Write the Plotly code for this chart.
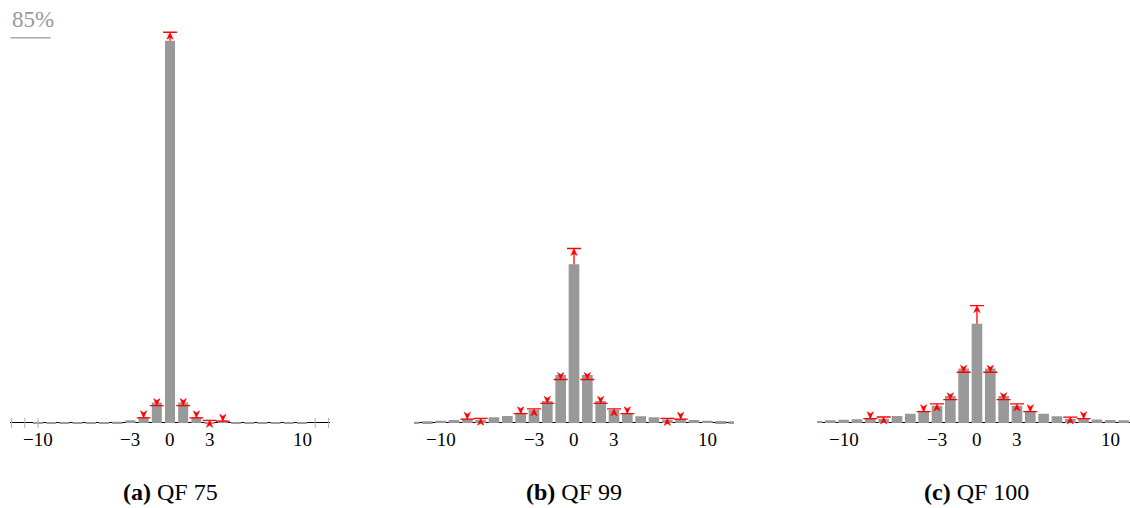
import plotly.graph_objects as go

# DCT coefficient values shown on the horizontal axis
coefficients = list(range(-12, 13))

# Histogram of the cover image (percent of coefficients), one list per quality factor
hist_qf75 = [0.0, 0.0, 0.01, 0.02, 0.03, 0.05, 0.1, 0.15, 0.3, 0.6, 1.35, 4.5, 84.3,
             4.5, 1.3, 0.3, 0.55, 0.15, 0.1, 0.05, 0.03, 0.02, 0.01, 0.0, 0.0]
hist_qf99 = [0.3, 0.37, 0.5, 0.66, 0.95, 0.7, 1.25, 1.55, 2.25, 2.85, 4.85, 10.6, 35.0,
             10.6, 4.85, 2.85, 2.2, 1.5, 1.25, 0.75, 0.95, 0.66, 0.5, 0.42, 0.37]
hist_qf100 = [0.45, 0.6, 0.7, 0.8, 1.1, 0.95, 1.54, 2.05, 2.7, 3.8, 5.95, 12.0, 21.9,
              12.0, 5.95, 3.8, 2.7, 2.05, 1.5, 0.95, 1.1, 0.75, 0.66, 0.6, 0.5]

# Histogram after embedding (None = bin not marked)
embed_qf75 = [None] * 10 + [1.15, 3.85, 86.2, 3.85, 1.15, 0.6, 0.4] + [None] * 8
embed_qf99 = [None] * 4 + [0.85, 1.03, None, None, 2.05, 3.1, 4.35, 9.6, 38.5,
                           9.6, 4.35, 3.1, 2.05, None, None, 1.0, 0.85] + [None] * 4
embed_qf100 = [None] * 4 + [0.95, 1.32, None, None, 2.5, 4.2, 5.15, 11.2, 25.9,
                            11.2, 5.15, 4.2, 2.5, None, None, 1.3, 0.95] + [None] * 4

tick_values = [-10, -3, 0, 3, 10]
tick_text = ["\u221210", "\u22123", "0", "3", "10"]
minor_marks_qf75 = [-12, -11, -10, 11, 12]

panel_tags = ["(a)", "(b)", "(c)"]
panel_names = ["QF 75", "QF 99", "QF 100"]
y_top_label = "85%"
y_top_value = 85

# ---- layout geometry ----
W, H = 1130, 508
FONT = "'Liberation Serif', 'DejaVu Serif', 'Times New Roman', serif"
Y_RANGE = [-4, 92]
Y_DOMAIN = [0.13163, 0.98825]
panels = [
    dict(hist=hist_qf75, embed=embed_qf75, xr=[-12.15, 12.15], dom=[0.0085, 0.2924], bw=0.76),
    dict(hist=hist_qf99, embed=embed_qf99, xr=[-12, 12], dom=[0.36637, 0.64956], bw=0.8),
    dict(hist=hist_qf100, embed=embed_qf100, xr=[-12, 11.48], dom=[0.72301, 1.0], bw=0.8),
]

BAR_COLOR = "#999999"
RED = "#ff0000"
HEAD_LEN = 7.0     # px
HEAD_HALF = 3.2    # px
HEAD_NOTCH = 2.0   # px
LEVEL_HALF = 0.525  # half width of the target level mark, in bins

ky = (Y_DOMAIN[1] - Y_DOMAIN[0]) * H / (Y_RANGE[1] - Y_RANGE[0])


def arrow_paths(xs, before, after, kx):
    lx, ly, hx, hy = [], [], [], []
    L = HEAD_LEN / ky
    N = HEAD_NOTCH / ky
    B = HEAD_HALF / kx
    for x, v, w in zip(xs, before, after):
        if w is None:
            continue
        d = 1 if w > v else -1
        lx += [x - LEVEL_HALF, x + LEVEL_HALF, None]
        ly += [w, w, None]
        lx += [x, x, None]
        ly += [v, w - d * 0.5 * L, None]
        hx += [x, x - B, x, x + B, x, None]
        hy += [w, w - d * L, w - d * (L - N), w - d * L, w, None]
    return lx, ly, hx, hy


fig = go.Figure()
annotations = []
shapes = []

for i, p in enumerate(panels):
    sfx = "" if i == 0 else str(i + 1)
    xa, ya = "x" + sfx, "y" + sfx
    kx = (p["dom"][1] - p["dom"][0]) * W / (p["xr"][1] - p["xr"][0])

    fig.add_trace(go.Bar(x=coefficients, y=p["hist"], width=p["bw"],
                         marker=dict(color=BAR_COLOR, line=dict(width=0)),
                         xaxis=xa, yaxis=ya, hoverinfo="skip"))

    lx, ly, hx, hy = arrow_paths(coefficients, p["hist"], p["embed"], kx)
    fig.add_trace(go.Scatter(x=lx, y=ly, mode="lines", line=dict(color=RED, width=1.3),
                             xaxis=xa, yaxis=ya, hoverinfo="skip"))
    fig.add_trace(go.Scatter(x=hx, y=hy, mode="lines", fill="toself", fillcolor=RED,
                             line=dict(color=RED, width=0.5),
                             xaxis=xa, yaxis=ya, hoverinfo="skip"))

    for tv, tt in zip(tick_values, tick_text):
        annotations.append(dict(x=tv, y=0, xref=xa, yref=ya, text=tt, showarrow=False,
                                yanchor="top", yshift=-4,
                                font=dict(family=FONT, size=19, color="black")))

    annotations.append(dict(x=0, y=0.0315, xref=xa, yref="paper",
                            text="<b>%s</b> %s" % (panel_tags[i], panel_names[i]),
                            showarrow=False, yanchor="middle",
                            font=dict(family=FONT, size=24, color="black")))

    fig.layout["xaxis" + sfx] = dict(domain=p["dom"], range=p["xr"], visible=False,
                                     anchor=ya, fixedrange=True)
    fig.layout["yaxis" + sfx] = dict(domain=Y_DOMAIN, range=Y_RANGE, anchor=xa,
                                     showticklabels=False, showgrid=False, ticks="",
                                     zeroline=True, zerolinecolor="black",
                                     zerolinewidth=1, fixedrange=True)

# small axis marks of the first panel
mx, my = [], []
for m in minor_marks_qf75:
    mx += [m, m, None]
    my += [-5 / ky, 5 / ky, None]
fig.add_trace(go.Scatter(x=mx, y=my, mode="lines", line=dict(color="#b0b0b0", width=1),
                         xaxis="x", yaxis="y", hoverinfo="skip"))

# top-of-scale mark on the first panel
shapes.append(dict(type="line", xref="x domain", yref="y", x0=0.003, x1=0.128,
                   y0=y_top_value, y1=y_top_value, line=dict(color="#aaaaaa", width=1.5)))
annotations.append(dict(x=0.0, y=y_top_value, xref="x domain", yref="y", text=y_top_label,
                        showarrow=False, xanchor="left", yanchor="bottom", yshift=4,
                        font=dict(family=FONT, size=23, color="#999999")))

fig.update_layout(width=W, height=H, margin=dict(l=0, r=0, t=0, b=0),
                  paper_bgcolor="white", plot_bgcolor="white", showlegend=False,
                  font=dict(family=FONT),
                  annotations=annotations, shapes=shapes)

fig.write_html("out.html")
